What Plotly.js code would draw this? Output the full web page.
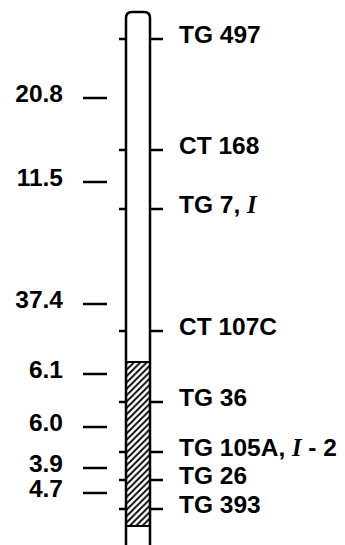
<!DOCTYPE html>
<html><head><meta charset="utf-8">
<script src="https://cdn.plot.ly/plotly-3.0.1.min.js"></script>
<style>html,body{margin:0;padding:0;background:#fff}#c{width:345px;height:545px}</style>
</head><body><div id="c"></div>
<script>
// Marker names and their drawn positions along the chromosome (vertical units, top = 0)
const markers = ["TG 497", "CT 168", "TG 7, <span style=\"font-family:'Liberation Serif';font-style:italic\">I</span>", "CT 107C", "TG 36",
  "TG 105A, <span style=\"font-family:'Liberation Serif';font-style:italic\">I</span> - 2", "TG 26", "TG 393"];
const markerPos = [39, 150, 209, 331, 402, 452, 480, 509];
// Map distances (cM) between adjacent markers and their drawn positions
const distances = ["20.8", "11.5", "37.4", "6.1", "6.0", "3.9", "4.7"];
const distPos = [98, 182, 304, 374, 427, 468, 493];
// Introgressed (hatched) segment
const segStart = [362];
const segEnd = [526];

const chrL = 126, chrR = 150, chrTop = 12, chrBot = 545;
const traces = [];

// hatched segment
traces.push({
  type: 'bar', x: [(chrL + chrR) / 2], y: segEnd.map((e, i) => e - segStart[i]), base: segStart,
  width: chrR - chrL, orientation: 'v',
  marker: {color: '#fff', line: {color: '#000', width: 2},
    pattern: {shape: '/', fgcolor: '#000', bgcolor: '#fff', size: 4.5, solidity: 0.4}},
  hoverinfo: 'skip', showlegend: false
});

// marker ticks both sides
const tx = [], ty = [];
markerPos.forEach(p => { tx.push(119, chrL, null, chrR, 163, null); ty.push(p, p, null, p, p, null); });
traces.push({type: 'scatter', mode: 'lines', x: tx, y: ty, line: {color: '#000', width: 2.5}, hoverinfo: 'skip', showlegend: false});

// distance dashes
const dx = [], dy = [];
distPos.forEach(p => { dx.push(83, 107, null); dy.push(p, p, null); });
traces.push({type: 'scatter', mode: 'lines', x: dx, y: dy, line: {color: '#000', width: 2.5}, hoverinfo: 'skip', showlegend: false});

// marker labels
traces.push({type: 'scatter', mode: 'text', x: markerPos.map(() => 179), y: markerPos.map(p => p - 2), text: markers,
  textposition: 'middle right', textfont: {family: 'Liberation Sans, Arial', size: 24.5, color: '#000', weight: 700},
  hoverinfo: 'skip', showlegend: false, cliponaxis: false});

// distance labels
traces.push({type: 'scatter', mode: 'text', x: distPos.map(() => 63), y: distPos.map(p => p - 2), text: distances,
  textposition: 'middle left', textfont: {family: 'Liberation Sans, Arial', size: 24.5, color: '#000', weight: 700},
  hoverinfo: 'skip', showlegend: false, cliponaxis: false});

const layout = {
  width: 345, height: 545, margin: {l: 0, r: 0, t: 0, b: 0},
  paper_bgcolor: '#fff', plot_bgcolor: '#fff', showlegend: false,
  xaxis: {range: [0, 345], visible: false, fixedrange: true},
  yaxis: {range: [545, 0], visible: false, fixedrange: true},
  shapes: [{type: 'path', xref: 'x', yref: 'y',
    path: `M${chrL},${chrBot} L${chrL},${chrTop + 6} Q${chrL},${chrTop} ${chrL + 6},${chrTop} L${chrR - 6},${chrTop} Q${chrR},${chrTop} ${chrR},${chrTop + 6} L${chrR},${chrBot}`,
    line: {color: '#000', width: 2.5}, fillcolor: 'rgba(0,0,0,0)', layer: 'above'}]
};
Plotly.newPlot('c', traces, layout, {staticPlot: true, displayModeBar: false});
</script></body></html>
